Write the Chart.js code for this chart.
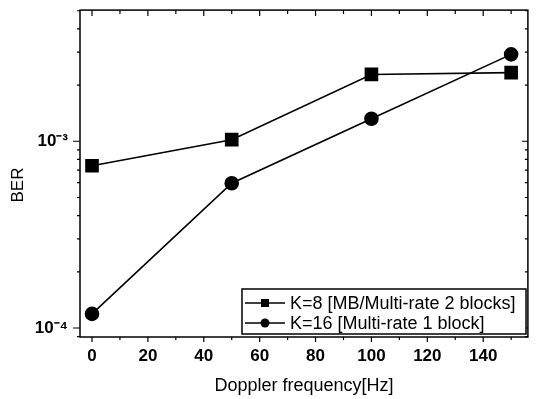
<!DOCTYPE html>
<html>
<head>
<meta charset="utf-8">
<script src="https://cdn.jsdelivr.net/npm/chart.js@4/dist/chart.umd.min.js"></script>
<style>
  html, body { margin: 0; padding: 0; background: #fff; }
  #wrap { width: 538px; height: 399px; position: relative; }
</style>
</head>
<body>
<div id="wrap"><canvas id="c" width="538" height="399"></canvas></div>
<script>
// ---- data ----
const dopplerHz = [0, 50, 100, 150];
const berK8 = [7.4e-4, 1.02e-3, 2.28e-3, 2.33e-3];
const berK16 = [1.19e-4, 5.96e-4, 1.32e-3, 2.92e-3];
const seriesNames = ['K=8 [MB/Multi-rate 2 blocks]', 'K=16 [Multi-rate 1 block]'];
const xTicks = [0, 20, 40, 60, 80, 100, 120, 140];
const yTicks = [1e-4, 1e-3];
const yTickLabels = ['10\u207B\u2074', '10\u207B\u00B3'];
const xTitle = 'Doppler frequency[Hz]';
const yTitle = 'BER';

const X_MIN = -4.3, X_MAX = 156;
const Y_MIN = 8.95e-5, Y_MAX = 5.04e-3;

const toPts = (xs, ys) => xs.map((x, i) => ({ x: x, y: ys[i] }));

const framePlugin = {
  id: 'frame',
  afterDatasetsDraw(chart) {
    const ctx = chart.ctx;
    const a = chart.chartArea;
    const xs = chart.scales.x, ys = chart.scales.y;
    ctx.save();
    ctx.strokeStyle = '#000';
    ctx.lineWidth = 1.5;
    ctx.strokeRect(a.left, a.top, a.right - a.left, a.bottom - a.top);
    ctx.lineWidth = 1.2;
    ctx.beginPath();
    for (let v = 0; v <= 150; v += 10) {
      const px = xs.getPixelForValue(v);
      const major = v % 20 === 0;
      ctx.moveTo(px, a.bottom); ctx.lineTo(px, a.bottom + (major ? 5 : 3));
      ctx.moveTo(px, a.top); ctx.lineTo(px, a.top + (major ? 6 : 4));
    }
    for (let d = -5; d <= -2; d++) {
      for (let m = 1; m <= 9; m++) {
        const v = m * Math.pow(10, d);
        if (v < Y_MIN || v > Y_MAX) continue;
        const py = ys.getPixelForValue(v);
        const major = m === 1;
        ctx.moveTo(a.left, py); ctx.lineTo(a.left - (major ? 7 : 3), py);
        ctx.moveTo(a.right, py); ctx.lineTo(a.right - (major ? 6 : 3), py);
      }
    }
    ctx.stroke();

    ctx.fillStyle = '#000';
    ctx.font = '17px "Liberation Sans", Arial, sans-serif';
    ctx.textAlign = 'center';
    ctx.textBaseline = 'middle';
    ctx.translate(18, 185);
    ctx.rotate(-Math.PI / 2);
    ctx.fillText(yTitle, 0, 0);
    ctx.restore();

    // legend
    ctx.save();
    const bx = 242, by = 289, bw = 284, bh = 45;
    ctx.fillStyle = '#fff';
    ctx.fillRect(bx, by, bw, bh);
    ctx.strokeStyle = '#000';
    ctx.lineWidth = 1.5;
    ctx.strokeRect(bx, by, bw, bh);
    const rows = [by + 14, by + 34];
    chart.data.datasets.forEach((ds, i) => {
      const ry = rows[i];
      ctx.strokeStyle = '#000';
      ctx.lineWidth = 1.5;
      ctx.beginPath();
      ctx.moveTo(bx + 3, ry); ctx.lineTo(bx + 43, ry);
      ctx.stroke();
      ctx.fillStyle = '#000';
      if (ds.pointStyle === 'rect') {
        ctx.fillRect(bx + 23 - 4, ry - 4, 8, 8);
      } else {
        ctx.beginPath();
        ctx.arc(bx + 23, ry, 4.5, 0, Math.PI * 2);
        ctx.fill();
      }
      ctx.font = '18px "Liberation Sans", Arial, sans-serif';
      ctx.textAlign = 'left';
      ctx.textBaseline = 'middle';
      ctx.fillText(ds.label, bx + 48, ry + 1);
    });
    ctx.restore();
  }
};

new Chart(document.getElementById('c'), {
  type: 'scatter',
  data: {
    datasets: [
      {
        label: seriesNames[0],
        data: toPts(dopplerHz, berK8),
        showLine: true,
        borderColor: '#000',
        backgroundColor: '#000',
        borderWidth: 1.6,
        pointStyle: 'rect',
        pointRadius: 8.5,
        pointHoverRadius: 8.5
      },
      {
        label: seriesNames[1],
        data: toPts(dopplerHz, berK16),
        showLine: true,
        borderColor: '#000',
        backgroundColor: '#000',
        borderWidth: 1.6,
        pointStyle: 'circle',
        pointRadius: 6.5,
        pointHoverRadius: 6.5
      }
    ]
  },
  options: {
    responsive: false,
    animation: false,
    devicePixelRatio: 1,
    layout: { padding: { top: 8, right: 8, left: 0, bottom: 0 } },
    plugins: { legend: { display: false }, tooltip: { enabled: false } },
    scales: {
      x: {
        type: 'linear',
        min: X_MIN, max: X_MAX,
        grid: { display: false, drawTicks: false },
        border: { display: false },
        afterBuildTicks: (s) => { s.ticks = xTicks.map(v => ({ value: v })); },
        afterFit: (s) => { s.height = 62; s.paddingLeft = 0; s.paddingRight = 0; },
        ticks: {
          padding: 9,
          color: '#000',
          maxRotation: 0,
          font: { family: '"Liberation Sans", Arial, sans-serif', size: 17, weight: 'bold' }
        },
        title: {
          display: true,
          text: xTitle,
          color: '#000',
          padding: { top: 0, bottom: 2 },
          font: { family: '"Liberation Sans", Arial, sans-serif', size: 18 }
        }
      },
      y: {
        type: 'logarithmic',
        min: Y_MIN, max: Y_MAX,
        grid: { display: false, drawTicks: false },
        border: { display: false },
        afterBuildTicks: (s) => { s.ticks = yTicks.map(v => ({ value: v })); },
        afterFit: (s) => { s.width = 80; s.paddingTop = 0; s.paddingBottom = 0; },
        ticks: {
          padding: 12,
          color: '#000',
          callback: (v) => { const i = yTicks.indexOf(v); return i >= 0 ? yTickLabels[i] : ''; },
          font: { family: '"Liberation Sans", Arial, sans-serif', size: 17, weight: 'bold' }
        }
      }
    }
  },
  plugins: [framePlugin]
});
</script>
</body>
</html>
